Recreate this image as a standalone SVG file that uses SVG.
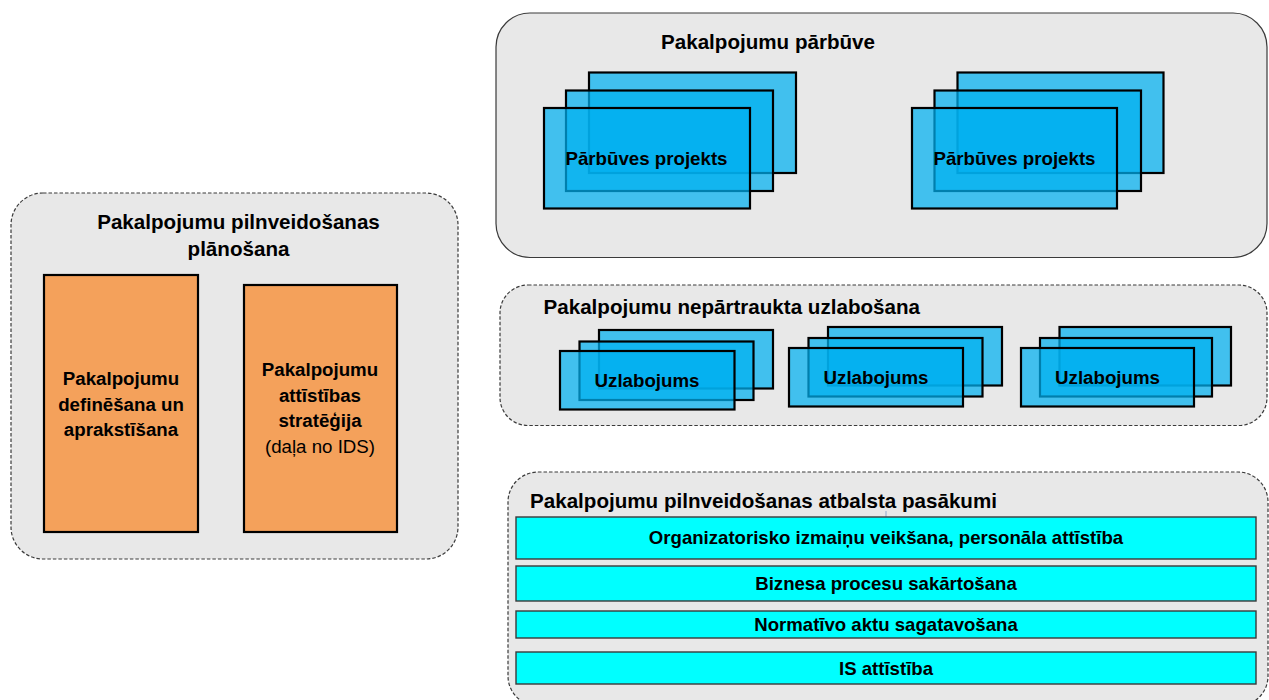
<svg xmlns="http://www.w3.org/2000/svg" width="1269" height="700" viewBox="0 0 1269 700">
<style>
.cont{fill:#E8E8E8;stroke:#3A3A3A;stroke-width:1.2}
.dash{stroke-dasharray:3.5 2}
.org{fill:#F4A15B;stroke:#000;stroke-width:2.2}
.blu{fill:#00B0F0;fill-opacity:0.72;stroke:#000;stroke-width:2.2}
.bar{fill:#00FFFF;stroke:#3A3A3A;stroke-width:1.4}
text{font-family:"Liberation Sans",Arial,sans-serif;fill:#000}
.t{font-weight:bold;font-size:20.6px}
.b{font-weight:bold;font-size:18.7px;text-anchor:middle}
.r{font-size:18.7px;text-anchor:middle}
.s{font-weight:bold;font-size:18.6px;text-anchor:middle}
</style>
<g id="planning">
<rect class="cont dash" x="11" y="193" width="447" height="366" rx="32"/>
<text class="t" x="238.5" y="229" text-anchor="middle">Pakalpojumu pilnveidošanas</text>
<text class="t" x="238.5" y="256" text-anchor="middle">plānošana</text>
</g>
<g id="definition">
<rect class="org" x="44" y="275" width="154" height="257"/>
<text class="b" x="121" y="385">Pakalpojumu</text>
<text class="b" x="121" y="410.5">definēšana un</text>
<text class="b" x="121" y="436">aprakstīšana</text>
</g>
<g id="strategy">
<rect class="org" x="244" y="285" width="153" height="247"/>
<text class="b" x="320" y="376">Pakalpojumu</text>
<text class="b" x="320" y="401.5">attīstības</text>
<text class="b" x="320" y="427">stratēģija</text>
<text class="r" x="320" y="453">(daļa no IDS)</text>
</g>
<g id="rebuild">
<rect class="cont" x="496" y="13" width="771" height="244.5" rx="34"/>
<text class="t" x="661" y="49">Pakalpojumu pārbūve</text>
</g>
<g id="project1">
<rect class="blu" x="589" y="72.5" width="207" height="100.5"/>
<rect class="blu" x="566" y="90.5" width="207" height="100.5"/>
<rect class="blu" x="544" y="108" width="206" height="100.5"/>
<text class="b" x="646.5" y="165">Pārbūves projekts</text>
</g>
<g id="project2">
<rect class="blu" x="957.5" y="72.5" width="206" height="100.5"/>
<rect class="blu" x="934.5" y="90.5" width="206.5" height="100.5"/>
<rect class="blu" x="912" y="108" width="205" height="100.5"/>
<text class="b" x="1014.5" y="165">Pārbūves projekts</text>
</g>
<g id="improvement">
<rect class="cont dash" x="500" y="285" width="767" height="140.5" rx="28"/>
<text class="t" x="543.5" y="314">Pakalpojumu nepārtraukta uzlabošana</text>
</g>
<g id="improve1">
<rect class="blu" x="599" y="330" width="174" height="58.5"/>
<rect class="blu" x="579.5" y="341.5" width="174" height="58.5"/>
<rect class="blu" x="560" y="351" width="174.5" height="58.5"/>
<text class="b" x="647" y="387">Uzlabojums</text>
</g>
<g id="improve2">
<rect class="blu" x="828" y="327" width="174" height="58.5"/>
<rect class="blu" x="808.5" y="338" width="174" height="58.5"/>
<rect class="blu" x="789" y="348" width="174" height="58.5"/>
<text class="b" x="876" y="384">Uzlabojums</text>
</g>
<g id="improve3">
<rect class="blu" x="1059.5" y="327" width="171.5" height="58.5"/>
<rect class="blu" x="1040" y="338" width="172" height="58.5"/>
<rect class="blu" x="1021" y="348" width="173" height="58.5"/>
<text class="b" x="1107.5" y="384">Uzlabojums</text>
</g>
<g id="support">
<rect class="cont dash" x="508" y="472" width="760" height="234" rx="30"/>
<text class="t" x="530" y="508">Pakalpojumu pilnveidošanas atbalsta pasākumi</text>
</g>
<g id="connectors">
<line x1="886" y1="511" x2="886" y2="517" stroke="#8FA8CC" stroke-width="1"/>
</g>
<g id="bar-org">
<rect class="bar" x="516" y="517" width="740" height="42"/>
<text class="s" x="886" y="544">Organizatorisko izmaiņu veikšana, personāla attīstība</text>
</g>
<g id="bar-biz">
<rect class="bar" x="516" y="566" width="740" height="35"/>
<text class="s" x="886" y="590">Biznesa procesu sakārtošana</text>
</g>
<g id="bar-norm">
<rect class="bar" x="516" y="611" width="740" height="27"/>
<text class="s" x="886" y="631">Normatīvo aktu sagatavošana</text>
</g>
<g id="bar-is">
<rect class="bar" x="516" y="652" width="740" height="32"/>
<text class="s" x="886" y="675">IS attīstība</text>
</g>
</svg>
